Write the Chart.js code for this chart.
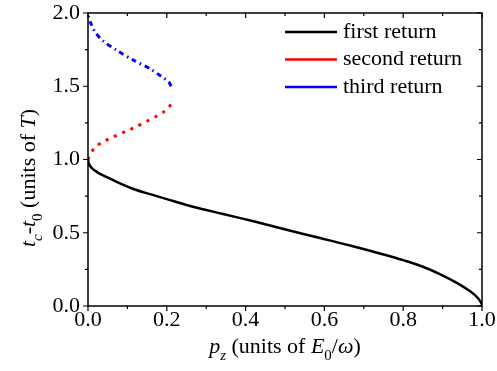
<!DOCTYPE html>
<html>
<head>
<meta charset="utf-8">
<script src="https://cdn.jsdelivr.net/npm/chart.js@4"></script>
<style>
  html, body { margin: 0; padding: 0; background: #fff; }
  #wrap { width: 497px; height: 371px; }
</style>
</head>
<body>
<div id="wrap"><canvas id="chart"></canvas></div>
<script>
// Data (p_z in units of E0/w, t_c - t_0 in units of T)
const seriesNames = ['first return', 'second return', 'third return'];
const seriesColors = ['#000000', '#ff0000', '#0000ff'];

const firstP = [0, 0.002, 0.009, 0.026, 0.052, 0.077, 0.119, 0.162, 0.204, 0.246, 0.289, 0.343, 0.42, 0.504, 0.589, 0.665, 0.75, 0.8, 0.85, 0.893, 0.936, 0.97, 0.99, 0.999, 1.0];
const firstT = [1.0, 0.972, 0.943, 0.909, 0.875, 0.842, 0.795, 0.76, 0.726, 0.693, 0.662, 0.628, 0.578, 0.52, 0.464, 0.413, 0.352, 0.313, 0.268, 0.218, 0.158, 0.1, 0.053, 0.015, 0.0];

const secondP = [0, 0.003, 0.01, 0.018, 0.038, 0.064, 0.094, 0.123, 0.149, 0.174, 0.195, 0.205, 0.211];
const secondT = [1.0, 1.02, 1.055, 1.085, 1.12, 1.155, 1.19, 1.225, 1.26, 1.295, 1.33, 1.355, 1.38];

const thirdP = [0.211, 0.205, 0.19, 0.157, 0.114, 0.073, 0.038, 0.018, 0.007, 0.002, 0];
const thirdT = [1.5, 1.53, 1.56, 1.62, 1.68, 1.745, 1.81, 1.87, 1.93, 1.97, 2.0];

const xTicks = [0.0, 0.2, 0.4, 0.6, 0.8, 1.0];
const yTicks = [0.0, 0.5, 1.0, 1.5, 2.0];

const toPts = (xs, ys) => xs.map((x, i) => ({ x: x, y: ys[i] }));

const FONT = '"Liberation Serif", "Times New Roman", serif';

// draw text made of pieces (italic / subscript)
function richWidth(ctx, parts, size) {
  let w = 0;
  parts.forEach(p => {
    ctx.font = (p.it ? 'italic ' : '') + (p.sub ? size * 0.68 : size) + 'px ' + FONT;
    w += ctx.measureText(p.t).width;
  });
  return w;
}
function drawRich(ctx, parts, x, y, size) {
  let cx = x - richWidth(ctx, parts, size) / 2;
  parts.forEach(p => {
    ctx.font = (p.it ? 'italic ' : '') + (p.sub ? size * 0.68 : size) + 'px ' + FONT;
    ctx.fillText(p.t, cx, p.sub ? y + size * 0.3 : y);
    cx += ctx.measureText(p.t).width;
  });
}

const decorPlugin = {
  id: 'decor',
  afterDraw(chart) {
    const ctx = chart.ctx;
    const a = chart.chartArea;
    const xs = chart.scales.x, ys = chart.scales.y;
    ctx.save();
    ctx.strokeStyle = '#000';
    ctx.lineWidth = 1.5;
    ctx.strokeRect(a.left, a.top, a.right - a.left, a.bottom - a.top);

    // outer ticks on bottom / left, inner ticks on top / right
    ctx.lineWidth = 1.2;
    ctx.beginPath();
    for (let i = 0; i <= 10; i++) {
      const px = xs.getPixelForValue(i / 10);
      const len = i % 2 === 0 ? 5 : 3;
      ctx.moveTo(px, a.bottom); ctx.lineTo(px, a.bottom + len);
      ctx.moveTo(px, a.top); ctx.lineTo(px, a.top + len);
    }
    for (let i = 0; i <= 8; i++) {
      const py = ys.getPixelForValue(i / 4);
      const len = i % 2 === 0 ? 5 : 3;
      ctx.moveTo(a.left, py); ctx.lineTo(a.left - len, py);
      ctx.moveTo(a.right, py); ctx.lineTo(a.right - len, py);
    }
    ctx.stroke();

    // legend
    ctx.font = '22px ' + FONT;
    ctx.textBaseline = 'middle';
    ctx.textAlign = 'left';
    seriesNames.forEach((n, i) => {
      const y = 32 + i * 27.5;
      ctx.strokeStyle = seriesColors[i];
      ctx.lineWidth = 2.5;
      ctx.beginPath();
      ctx.moveTo(285, y); ctx.lineTo(337, y);
      ctx.stroke();
      ctx.fillStyle = '#000';
      ctx.fillText(n, 343, y);
    });

    // axis titles
    ctx.fillStyle = '#000';
    ctx.textBaseline = 'alphabetic';
    drawRich(ctx, [
      { t: 'p', it: true }, { t: 'z', it: true, sub: true }, { t: ' (units of ' },
      { t: 'E', it: true }, { t: '0', sub: true }, { t: '/' }, { t: 'ω', it: true }, { t: ')' }
    ], 285, 353, 22);

    ctx.translate(35, 178);
    ctx.rotate(-Math.PI / 2);
    drawRich(ctx, [
      { t: 't', it: true }, { t: 'c', it: true, sub: true }, { t: '-' },
      { t: 't', it: true }, { t: '0', sub: true }, { t: ' (units of ' },
      { t: 'T', it: true }, { t: ')' }
    ], 0, 0, 22);
    ctx.restore();
  }
};

new Chart(document.getElementById('chart'), {
  type: 'line',
  data: {
    datasets: [
      {
        label: seriesNames[0], data: toPts(firstP, firstT),
        borderColor: seriesColors[0], borderWidth: 2.5, pointRadius: 0,
        tension: 0.4
      },
      {
        label: seriesNames[1], data: toPts(secondP, secondT),
        borderColor: seriesColors[1], borderWidth: 3, pointRadius: 0, tension: 0.3,
        borderDash: [3, 6]
      },
      {
        label: seriesNames[2], data: toPts(thirdP, thirdT),
        borderColor: seriesColors[2], borderWidth: 3, pointRadius: 0, tension: 0.3,
        borderDash: [5, 4, 1.5, 4]
      }
    ]
  },
  options: {
    responsive: true,
    maintainAspectRatio: false,
    animation: false,
    layout: { padding: { top: 13, right: 15, left: 0, bottom: 0 } },
    plugins: { legend: { display: false }, tooltip: { enabled: false } },
    scales: {
      x: {
        type: 'linear', min: 0, max: 1,
        afterBuildTicks: s => { s.ticks = xTicks.map(v => ({ value: v })); },
        afterFit: s => { s.height = 65; s.paddingLeft = 0; s.paddingRight = 0; },
        grid: { display: false, drawOnChartArea: false, drawTicks: false },
        border: { display: false },
        ticks: {
          color: '#000', padding: 1,
          font: { family: FONT, size: 22 },
          callback: v => v.toFixed(1)
        }
      },
      y: {
        type: 'linear', min: 0, max: 2,
        afterBuildTicks: s => { s.ticks = yTicks.map(v => ({ value: v })); },
        afterFit: s => { s.width = 88; s.paddingTop = 0; s.paddingBottom = 0; },
        grid: { display: false, drawOnChartArea: false, drawTicks: false },
        border: { display: false },
        ticks: {
          color: '#000', padding: 8,
          font: { family: FONT, size: 22 },
          callback: v => v.toFixed(1)
        }
      }
    }
  },
  plugins: [decorPlugin]
});
</script>
</body>
</html>
